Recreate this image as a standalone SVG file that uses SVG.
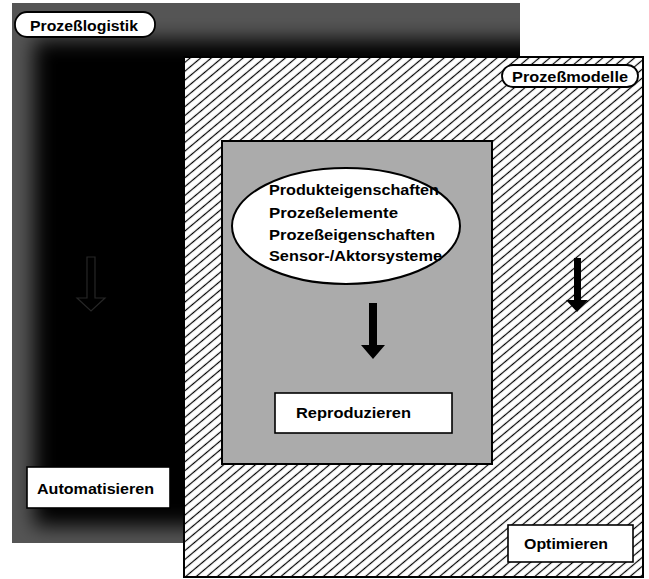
<svg xmlns="http://www.w3.org/2000/svg" width="649" height="579" viewBox="0 0 649 579">
  <style>
    .lbl { font-family: "Liberation Sans", Arial, sans-serif; font-weight: bold; font-size: 15.5px; fill: #000; }
    .box { fill: #fff; stroke: #000; stroke-width: 1.6; }
    .tag { fill: #fff; stroke: #000; stroke-width: 1.8; }
    .arrow { fill: #000; }
  </style>
  <defs>
    <!-- diagonal hatching for the process-model panel -->
    <pattern id="hatch" patternUnits="userSpaceOnUse" width="10" height="6.8" patternTransform="rotate(-40)">
      <rect width="10" height="6.8" fill="#fff"/>
      <line x1="0" y1="3.4" x2="10" y2="3.4" stroke="#000" stroke-width="1.2"/>
    </pattern>
    <clipPath id="logClip">
      <rect x="12" y="3" width="508" height="540"/>
    </clipPath>
    <filter id="soft" x="-20%" y="-20%" width="140%" height="140%">
      <feGaussianBlur stdDeviation="10"/>
    </filter>
  </defs>

  <!-- Process logistics: dark back panel, lighter toward its edges -->
  <g id="prozesslogistik">
    <g clip-path="url(#logClip)">
      <rect x="12" y="3" width="508" height="540" fill="#555"/>
      <rect x="34" y="40" width="530" height="486" fill="#050505" filter="url(#soft)"/>
    </g>
    <rect class="tag" x="15" y="12" width="140" height="25" rx="12"/>
    <text class="lbl" x="30" y="31" textLength="108" lengthAdjust="spacingAndGlyphs">Prozeßlogistik</text>
  </g>

  <!-- Process models: hatched panel -->
  <g id="prozessmodelle">
    <rect x="184" y="57" width="459" height="520" fill="url(#hatch)" stroke="#000" stroke-width="2"/>
    <rect class="tag" x="502" y="65" width="136" height="22" rx="11"/>
    <text class="lbl" x="512" y="81.5" textLength="116" lengthAdjust="spacingAndGlyphs">Prozeßmodelle</text>
  </g>

  <!-- Reproduction: grey inner panel -->
  <g id="reproduktion">
    <rect x="222" y="141" width="270" height="323" fill="#ababab" stroke="#000" stroke-width="2"/>
  </g>

  <!-- Properties ellipse -->
  <g id="eigenschaften">
    <ellipse cx="346" cy="226" rx="114" ry="58" fill="#fff" stroke="#000" stroke-width="2"/>
    <text class="lbl" x="269" y="195" textLength="170" lengthAdjust="spacingAndGlyphs">Produkteigenschaften</text>
    <text class="lbl" x="269" y="218" textLength="129" lengthAdjust="spacingAndGlyphs">Prozeßelemente</text>
    <text class="lbl" x="269" y="240" textLength="166" lengthAdjust="spacingAndGlyphs">Prozeßeigenschaften</text>
    <text class="lbl" x="269" y="261" textLength="173" lengthAdjust="spacingAndGlyphs">Sensor-/Aktorsysteme</text>
  </g>

  <!-- Action boxes -->
  <g id="reproduzieren">
    <rect class="box" x="275" y="393" width="177" height="40"/>
    <text class="lbl" x="296" y="418" textLength="115" lengthAdjust="spacingAndGlyphs">Reproduzieren</text>
  </g>
  <g id="automatisieren">
    <rect class="box" x="27" y="467" width="143" height="41"/>
    <text class="lbl" x="37" y="494" textLength="117" lengthAdjust="spacingAndGlyphs">Automatisieren</text>
  </g>
  <g id="optimieren">
    <rect class="box" x="508" y="525" width="125" height="37"/>
    <text class="lbl" x="524" y="549" textLength="84" lengthAdjust="spacingAndGlyphs">Optimieren</text>
  </g>

  <!-- Downward arrows -->
  <g id="connectors">
    <polygon points="87,257 95,257 95,298 105,298 91,311 77,298 87,298" fill="#000" stroke="#262626" stroke-width="1.2"/>
    <polygon class="arrow" points="369,303 377,303 377,345 385,345 373,359 361,345 369,345"/>
    <polygon class="arrow" points="574,258 581,258 581,300 588,300 577,312 566,300 574,300"/>
  </g>
</svg>
